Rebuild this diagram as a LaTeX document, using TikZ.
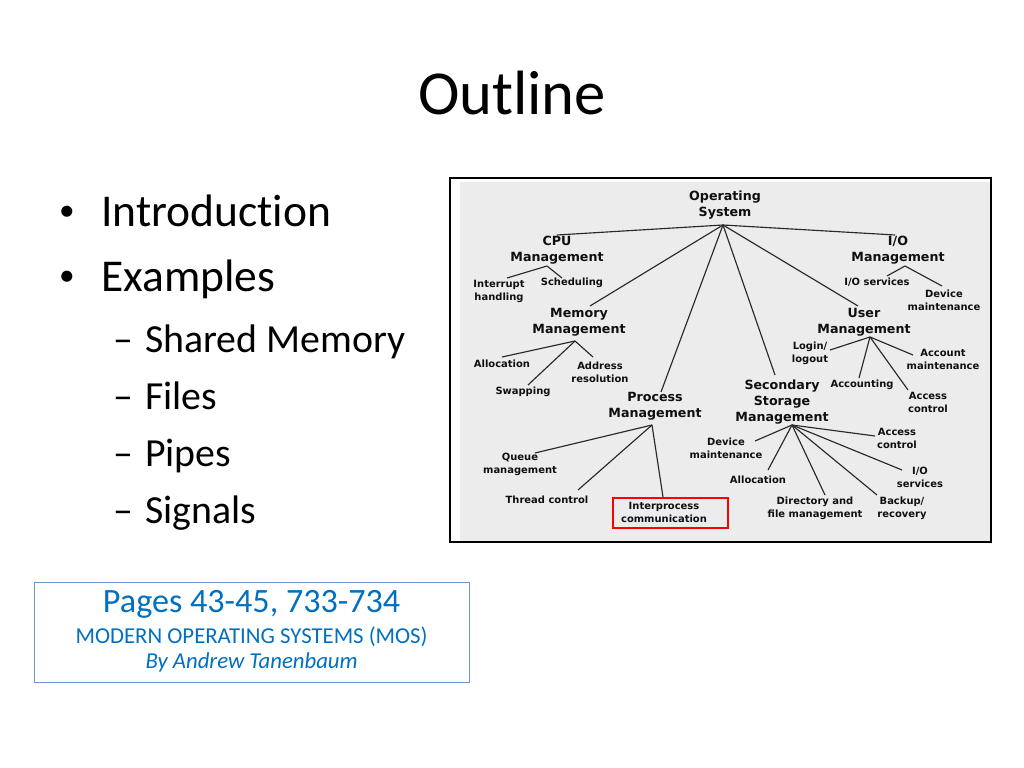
\documentclass[tikz,border=0pt]{standalone}
\usepackage{fontspec}
\setmainfont{Carlito}[Ligatures=NoCommon]
\newfontfamily\treefont{DejaVu Sans}
\definecolor{bgray}{RGB}{236,236,236}
\definecolor{boxblue}{RGB}{110,150,200}
\definecolor{txtblue}{RGB}{0,112,192}
\definecolor{ttext}{RGB}{15,15,15}
\definecolor{tline}{RGB}{40,40,40}
\tikzset{
  big/.style={font=\treefont\bfseries\fontsize{8.9}{11.2}\selectfont, align=center, inner sep=0pt, text=ttext},
  small/.style={font=\treefont\bfseries\fontsize{7}{9.1}\selectfont, align=center, inner sep=0pt, text=ttext},
  tl/.style={draw=tline, line width=0.8pt},
  lvlone/.style={font=\fontsize{32}{38}\selectfont, anchor=base west, inner sep=0pt},
  lvltwo/.style={font=\fontsize{28}{34}\selectfont, anchor=base west, inner sep=0pt},
  bulletmark/.style={font=\fontsize{22}{26}\selectfont, anchor=center, inner sep=0pt},
}
\begin{document}
\begin{tikzpicture}[x=0.703125pt,y=-0.703125pt]
\useasboundingbox (0,0) rectangle (1024,768);
\fill[white] (0,0) rectangle (1024,768);

% title
\node[font=\fontsize{44}{53}\selectfont, anchor=base, inner sep=0pt] (title) at (512,115) {Outline};

% bullets
\node[bulletmark] (b1) at (67,213) {\textbullet};
\node[lvlone] (intro) at (101,227) {Introduction};
\node[bulletmark] (b2) at (67,278) {\textbullet};
\node[lvlone] (examples) at (101,291) {Examples};
\node[lvltwo] (d1) at (113,352) {–};
\node[lvltwo] (shm) at (145,352) {Shared Memory};
\node[lvltwo] (d2) at (113,409) {–};
\node[lvltwo] (files) at (145,409) {Files};
\node[lvltwo] (d3) at (113,466) {–};
\node[lvltwo] (pipes) at (145,466) {Pipes};
\node[lvltwo] (d4) at (113,523) {–};
\node[lvltwo] (signals) at (145,523) {Signals};

% reference box
\node[draw=boxblue, line width=0.8pt, minimum width=305.9pt, minimum height=70.3pt, inner sep=0pt] (refbox) at (251.6,632.5) {};
\node[font=\fontsize{24}{29}\selectfont, text=txtblue, anchor=base, inner sep=0pt] (pages) at (251.6,612) {Pages 43-45, 733-734};
\node[font=\fontsize{16}{19}\selectfont, text=txtblue, anchor=base, inner sep=0pt] (mos) at (251.6,643) {MODERN OPERATING SYSTEMS (MOS)};
\node[font=\itshape\fontsize{16}{19}\selectfont, text=txtblue, anchor=base, inner sep=0pt] (author) at (251.6,668.5) {By Andrew Tanenbaum};

% picture frame
\fill[bgray] (460,182) rectangle (990,541);
\draw[black, line width=1.6pt] (450,178) rectangle (991,542);

% tree nodes
\node[big] (os) at (725,205) {Operating\\System};
\node[big] (cpu) at (557,250) {CPU\\Management};
\node[big] (io) at (898,250) {I/O\\Management};
\node[big] (mem) at (579,322) {Memory\\Management};
\node[big] (usr) at (864,322) {User\\Management};
\node[big] (ssm) at (782,402) {Secondary\\Storage\\Management};
\node[big] (proc) at (655,406) {Process\\Management};

\node[small] (intr) at (499,291) {Interrupt\\handling};
\node[small] (sched) at (572,283) {Scheduling};
\node[small] (iosv) at (877,282) {I/O services};
\node[small] (devm) at (944,300) {Device\\maintenance};
\node[small] (alloc) at (502,364) {Allocation};
\node[small] (addr) at (600,372) {Address\\resolution};
\node[small] (swap) at (523,392) {Swapping};
\node[small] (login) at (810,353) {Login/\\logout};
\node[small] (acct) at (943,359) {Account\\maintenance};
\node[small] (acctg) at (862,385) {Accounting};
\node[small] (uacc) at (928,402) {Access\\control};
\node[small] (sacc) at (897,438) {Access\\control};
\node[small] (sdev) at (726,448) {Device\\maintenance};
\node[small] (queue) at (520,464) {Queue\\management};
\node[small] (sio) at (920,477) {I/O\\services};
\node[small] (salloc) at (758,480) {Allocation};
\node[small] (thread) at (547,500) {Thread control};
\node[small] (ipc) at (664,512) {Interprocess\\communication};
\node[small] (dir) at (815,508) {Directory and\\file management};
\node[small] (backup) at (902,508) {Backup/\\recovery};
\draw[red, line width=1.3pt] (613,498) rectangle (728,528);

% hub points
\coordinate (osh) at (723,225);
\coordinate (cpuh) at (547,266);
\coordinate (ioh) at (905,266);
\coordinate (memh) at (575,341);
\coordinate (usrh) at (870,337);
\coordinate (proch) at (652,425);
\coordinate (ssmh) at (792,425);

% line ends
\coordinate (cpu-t) at (557,235);
\coordinate (io-t) at (895,235);
\coordinate (mem-t) at (590,306);
\coordinate (usr-t) at (858,306);
\coordinate (proc-t) at (661,392);
\coordinate (ssm-t) at (775,375);
\coordinate (intr-t) at (507,278);
\coordinate (sched-t) at (562,278);
\coordinate (iosv-t) at (887,276);
\coordinate (devm-t) at (942,286);
\coordinate (alloc-t) at (502,357);
\coordinate (swap-t) at (528,385);
\coordinate (addr-t) at (593,357);
\coordinate (login-t) at (830,350);
\coordinate (acctg-t) at (859,378);
\coordinate (acct-t) at (913,355);
\coordinate (uacc-t) at (908,390);
\coordinate (queue-t) at (535,453);
\coordinate (thread-t) at (578,490);
\coordinate (ipc-t) at (663,497);
\coordinate (sdev-t) at (755,441);
\coordinate (salloc-t) at (768,470);
\coordinate (dir-t) at (825,495);
\coordinate (backup-t) at (877,495);
\coordinate (sio-t) at (902,470);
\coordinate (sacc-t) at (875,436);

% connectors
\foreach \e in {cpu-t,io-t,mem-t,usr-t,proc-t,ssm-t} \draw[tl] (osh) -- (\e);
\foreach \e in {intr-t,sched-t} \draw[tl] (cpuh) -- (\e);
\foreach \e in {iosv-t,devm-t} \draw[tl] (ioh) -- (\e);
\foreach \e in {alloc-t,swap-t,addr-t} \draw[tl] (memh) -- (\e);
\foreach \e in {login-t,acctg-t,acct-t,uacc-t} \draw[tl] (usrh) -- (\e);
\foreach \e in {queue-t,thread-t,ipc-t} \draw[tl] (proch) -- (\e);
\foreach \e in {sdev-t,salloc-t,dir-t,backup-t,sio-t,sacc-t} \draw[tl] (ssmh) -- (\e);
\end{tikzpicture}
\end{document}
